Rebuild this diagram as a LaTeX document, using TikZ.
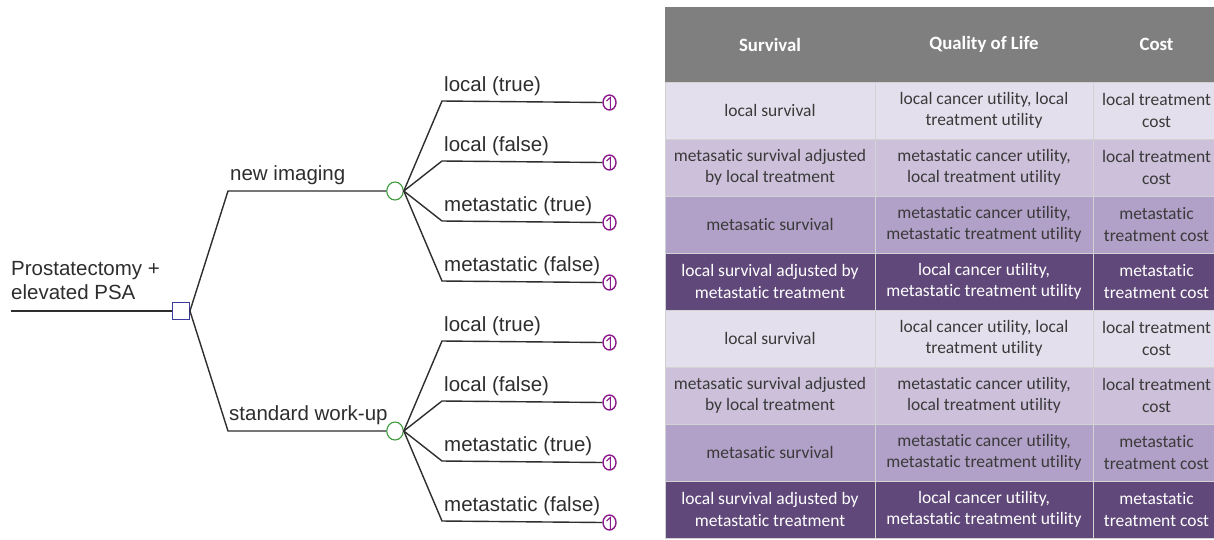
\documentclass[tikz,border=0pt]{standalone}
\usepackage{fontspec}
\usetikzlibrary{shapes.geometric}
\setmainfont{Liberation Sans}
\newfontfamily\calfont[RawFeature=-liga]{Carlito}
\definecolor{hdr}{HTML}{7F7F7F}
\definecolor{ra}{HTML}{E4DFEC}
\definecolor{rb}{HTML}{CCC0DA}
\definecolor{rc}{HTML}{B1A0C7}
\definecolor{rd}{HTML}{60497A}
\definecolor{ink}{HTML}{2E2E2E}
\definecolor{decb}{HTML}{3B3B9E}
\definecolor{chg}{HTML}{3C9A3C}
\definecolor{trm}{HTML}{8B1A8B}
\definecolor{celltxt}{HTML}{3A3A3A}
\newcommand\tablerows[2]{%
  \node[cell, fill=ra, minimum width=210pt] (#1a1) at (770,{110.5+#2}) {local survival};
  \node[cell, fill=ra, minimum width=218pt] (#1a2) at (984,{110.5+#2}) {local cancer utility, local\\treatment utility};
  \node[cell, fill=ra, minimum width=127pt] (#1a3) at (1156.5,{110.5+#2}) {local treatment\\cost};
  \node[cell, fill=rb, minimum width=210pt] (#1b1) at (770,{167.5+#2}) {metasatic survival adjusted\\by local treatment};
  \node[cell, fill=rb, minimum width=218pt] (#1b2) at (984,{167.5+#2}) {metastatic cancer utility,\\local treatment utility};
  \node[cell, fill=rb, minimum width=127pt] (#1b3) at (1156.5,{167.5+#2}) {local treatment\\cost};
  \node[cell, fill=rc, minimum width=210pt] (#1c1) at (770,{224.5+#2}) {metasatic survival};
  \node[cell, fill=rc, minimum width=218pt] (#1c2) at (984,{224.5+#2}) {metastatic cancer utility,\\metastatic treatment utility};
  \node[cell, fill=rc, minimum width=127pt] (#1c3) at (1156.5,{224.5+#2}) {metastatic\\treatment cost};
  \node[cell, fill=rd, text=white, minimum width=210pt] (#1d1) at (770,{281.5+#2}) {local survival adjusted by\\metastatic treatment};
  \node[cell, fill=rd, text=white, minimum width=218pt] (#1d2) at (984,{281.5+#2}) {local cancer utility,\\metastatic treatment utility};
  \node[cell, fill=rd, text=white, minimum width=127pt] (#1d3) at (1156.5,{281.5+#2}) {metastatic\\treatment cost};
}
\begin{document}
\begin{tikzpicture}[x=1pt,y=-1pt,
  branch/.style={draw=ink, line width=1.4pt},
  lbl/.style={anchor=base west, inner sep=0pt, text=ink, font=\fontsize{20.5}{24}\selectfont},
  decision/.style={rectangle, draw=decb, fill=white, line width=1.3pt, minimum size=16.6pt, inner sep=0pt},
  chance/.style={ellipse, draw=chg, fill=white, line width=1.1pt, minimum width=16.5pt, minimum height=18pt, inner sep=0pt},
  terminal/.style={ellipse, draw=trm, fill=white, line width=1.4pt, minimum width=13pt, minimum height=15pt, inner sep=0pt,
    path picture={\draw[trm, line width=1.1pt]
      ([xshift=0.8pt,yshift=-7pt]path picture bounding box.center) --
      ([xshift=0.8pt,yshift=5pt]path picture bounding box.center) --
      ([xshift=-3pt,yshift=1.5pt]path picture bounding box.center);}},
  cell/.style={rectangle, draw=gray!35, line width=1pt, inner sep=0pt, align=center, text=celltxt,
    minimum height=57pt, font=\calfont\fontsize{17.5}{21.5}\selectfont},
  hcell/.style={cell, fill=hdr, draw=hdr, text=white, minimum height=75pt,
    font=\calfont\bfseries\fontsize{18.8}{22}\selectfont}
]
\useasboundingbox (0,0) rectangle (1214,539);
\clip (0,0) rectangle (1214,539);
\fill[white] (0,0) rectangle (1214,539);

% ---------- decision tree ----------
\coordinate (start) at (11,311);
\node[decision] (dec) at (181,311) {};
\node[anchor=north west, inner sep=0pt, text=ink, align=left, font=\fontsize{20.5}{24}\selectfont]
  (rootlbl) at (11,261) {Prostatectomy +\\elevated PSA};
\draw[branch] (start) -- (dec.west);

\coordinate (cu) at (228,191);
\coordinate (cl) at (228,431);
\node[chance] (chu) at (395,191) {};
\node[chance] (chl) at (395,431) {};
\draw[branch] (dec.east) -- (cu) -- (chu.west);
\draw[branch] (dec.east) -- (cl) -- (chl.west);
\node[lbl] (l-ni) at (230,180) {new imaging};
\node[lbl] (l-sw) at (229,420) {standard work-up};

% upper outcomes
\foreach \i/\yy/\txt in {1/101/local (true), 2/161/local (false), 3/221/metastatic (true), 4/281/metastatic (false)}{
  \coordinate (bu\i) at (442,\yy);
  \node[terminal] (tu\i) at (609.5,\yy+1.5) {};
  \draw[branch] (chu.east) -- (bu\i) -- (tu\i.west);
  \node[lbl] (lu\i) at (444,\yy-10) {\txt};
}
% lower outcomes
\foreach \i/\yy/\txt in {1/341/local (true), 2/401/local (false), 3/461/metastatic (true), 4/521/metastatic (false)}{
  \coordinate (bl\i) at (442,\yy);
  \node[terminal] (tl\i) at (609.5,\yy+1.5) {};
  \draw[branch] (chl.east) -- (bl\i) -- (tl\i.west);
  \node[lbl] (ll\i) at (444,\yy-10) {\txt};
}

% ---------- table ----------
\node[hcell, minimum width=210pt] (h1) at (770,44.5) {Survival};
\node[hcell, minimum width=218pt] (h2) at (984,44.5) {Quality of Life};
\node[hcell, minimum width=127pt] (h3) at (1156.5,44.5) {Cost};
\tablerows{u}{0}
\tablerows{v}{228}
\end{tikzpicture}
\end{document}
